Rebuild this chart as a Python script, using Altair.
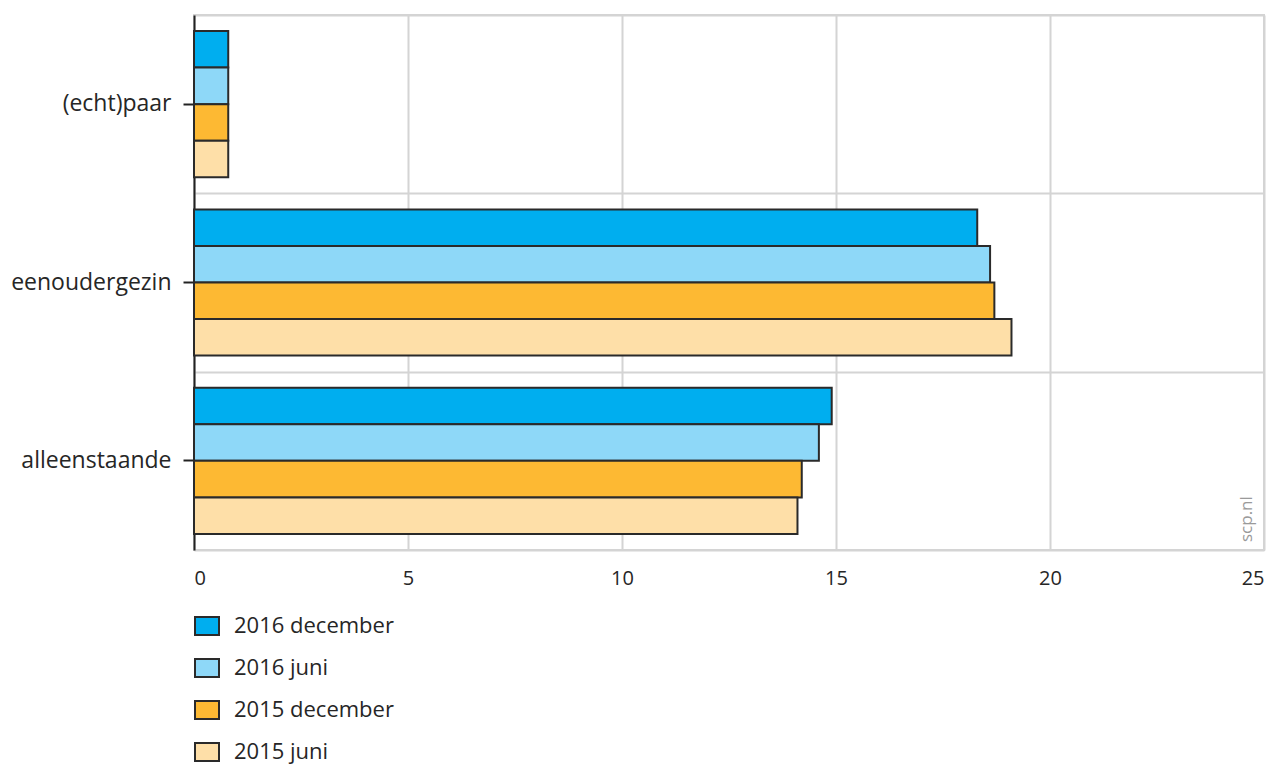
import altair as alt
import pandas as pd

categories = ["(echt)paar", "eenoudergezin", "alleenstaande"]
series = ["2016 december", "2016 juni", "2015 december", "2015 juni"]
colors = ["#00AEEF", "#8ED8F8", "#FDB933", "#FEDFA8"]

v_2016_dec = [0.8, 18.3, 14.9]
v_2016_jun = [0.8, 18.6, 14.6]
v_2015_dec = [0.8, 18.7, 14.2]
v_2015_jun = [0.8, 19.1, 14.1]

x_ticks = [0, 5, 10, 15, 20, 25]

rows = []
for s, vals in zip(series, [v_2016_dec, v_2016_jun, v_2015_dec, v_2015_jun]):
    for c, v in zip(categories, vals):
        rows.append({"categorie": c, "periode": s, "waarde": v})
df = pd.DataFrame(rows)

FONT = "Open Sans"
TXT = "#262626"

xscale = alt.Scale(domain=[0, 25], nice=False)
yscale = alt.Scale(domain=categories, paddingInner=0, paddingOuter=0)

bars = alt.Chart(df).mark_bar(stroke="#2a2a2a", strokeWidth=2).encode(
    x=alt.X("waarde:Q", scale=xscale,
            axis=alt.Axis(values=x_ticks, title=None, grid=True, gridColor="#d4d4d4",
                          gridWidth=2, domain=False, ticks=False, labelFontSize=20,
                          labelPadding=18, labelColor=TXT, labelFont=FONT)),
    y=alt.Y("categorie:N", scale=yscale, sort=categories,
            axis=alt.Axis(title=None, grid=False, domainColor="#222222", domainWidth=2,
                          tickColor="#222222", tickWidth=2, tickSize=11, labelPadding=12,
                          labelFontSize=23, labelColor=TXT, labelFont=FONT)),
    yOffset=alt.YOffset("periode:N", sort=series,
                        scale=alt.Scale(paddingInner=0, paddingOuter=0.44)),
    color=alt.Color("periode:N", sort=series,
                    scale=alt.Scale(domain=series, range=colors),
                    legend=alt.Legend(title=None, orient="none", legendX=0, legendY=598,
                                      direction="vertical", padding=0,
                                      symbolType="M-1,-0.75H1V0.75H-1Z", symbolSize=576,
                                      symbolStrokeColor="#2a2a2a", symbolStrokeWidth=2,
                                      symbolOpacity=1, labelFontSize=22, labelColor=TXT,
                                      labelFont=FONT, labelOffset=14, rowPadding=16)),
)

grid = alt.Chart(pd.DataFrame({"categorie": categories})).mark_point(opacity=0).encode(
    y=alt.Y("categorie:N", scale=yscale, sort=categories,
            axis=alt.Axis(orient="right", title=None, labels=False, ticks=False, domain=False,
                          grid=True, tickBand="extent", gridColor="#d4d4d4", gridWidth=2)),
)

note = alt.Chart(pd.DataFrame({"t": ["scp.nl"]})).mark_text(
    angle=270, align="left", baseline="middle", fontSize=17, color="#9a9a9a", font=FONT
).encode(text="t:N", x=alt.value(1053), y=alt.value(527))

chart = alt.layer(grid, bars, note).resolve_axis(y="independent").properties(
    width=1070, height=535,
    autosize=alt.AutoSizeParams(type="none"),
    padding={"left": 186, "top": 7, "right": 5, "bottom": 214},
).configure_view(stroke="#d4d4d4", strokeWidth=2)

chart.save("out.html", embed_options={"renderer": "svg", "actions": False})
